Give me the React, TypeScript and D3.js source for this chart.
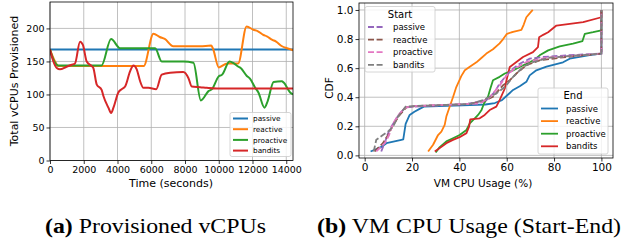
import React, { useEffect, useRef } from 'react';
import * as d3 from 'd3';

type Pt = [number, number];

// (a) provisioned vCPUs over time
const timeTicks = [0, 2000, 4000, 6000, 8000, 10000, 12000, 14000];
const vcpuTicks = [0, 50, 100, 150, 200];
const seriesNames = ['passive', 'reactive', 'proactive', 'bandits'];

const passive: Pt[] = [[0, 168], [14400, 168]];
const reactive: Pt[] = [
  [0, 168], [300, 150], [500, 143], [1000, 143], [5550, 143], [6130, 192], [6500, 187], [6800, 184],
  [7300, 173], [8900, 173], [9550, 174], [9650, 170], [10000, 141], [10500, 147], [11150, 147],
  [11650, 203], [12050, 198], [12300, 196], [12650, 190], [12850, 188], [13150, 183], [13400, 180],
  [13750, 173], [14050, 170], [14400, 167],
];
const proactive: Pt[] = [
  [0, 168], [250, 150], [500, 144], [3050, 144], [3620, 184], [4150, 170], [6230, 170], [6620, 150],
  [7900, 150], [8500, 148], [8940, 91], [9390, 105], [9600, 108], [9985, 127], [10200, 130],
  [10640, 150], [10900, 147], [11170, 142], [11300, 140], [11665, 128], [11850, 124], [12160, 110],
  [12350, 103], [12710, 80], [12900, 90], [13250, 119], [13740, 120], [13850, 118], [14230, 103],
  [14400, 100],
];
const bandits: Pt[] = [
  [0, 168], [200, 150], [400, 140], [590, 138], [980, 142], [1285, 145], [1480, 147], [1780, 180],
  [1950, 175], [2175, 150], [2470, 143], [2570, 140], [2770, 115], [3060, 107], [3160, 98],
  [3460, 80], [3620, 72], [3760, 80], [4050, 103], [4250, 108], [4450, 112], [4745, 135], [4940, 144],
  [5140, 138], [5340, 120], [5535, 110], [5830, 110], [6290, 108], [6620, 130], [7120, 133],
  [7900, 134], [8200, 125], [8400, 112], [8900, 111], [9290, 110], [9885, 109], [14400, 109],
];

// (b) CDF of VM CPU usage, start (dashed) and end (solid)
const usageTicks = [0, 20, 40, 60, 80, 100];
const cdfTicks = [0, 0.2, 0.4, 0.6, 0.8, 1.0];

const startPassive: Pt[] = [
  [7, 0.027], [8.9, 0.107], [9.9, 0.153], [11.3, 0.198], [13.4, 0.255], [15.5, 0.3], [17.3, 0.33],
  [20.4, 0.335], [43, 0.352], [51.4, 0.38], [55, 0.437], [57, 0.494], [59.9, 0.55], [62.7, 0.597],
  [65.5, 0.63], [69.7, 0.665], [75.4, 0.677], [85.2, 0.688], [100, 0.7], [100, 1.0],
];
const startReactive: Pt[] = [
  [4.2, 0.027], [7.7, 0.084], [9.9, 0.14], [12, 0.21], [14.8, 0.278], [17.6, 0.33], [21.8, 0.34],
  [43, 0.352], [50, 0.37], [54.2, 0.403], [58.5, 0.483], [61.3, 0.517], [64.1, 0.563], [68.3, 0.62],
  [73.9, 0.654], [85.2, 0.677], [100, 0.7], [100, 1.0],
];
const startProactive: Pt[] = [
  [4.9, 0.027], [8.5, 0.084], [10.3, 0.14], [12, 0.22], [14.8, 0.29], [17.3, 0.33], [21.8, 0.34],
  [48.6, 0.357], [52.8, 0.4], [57, 0.48], [59.9, 0.55], [63.4, 0.597], [68.3, 0.642], [76.8, 0.672],
  [100, 0.7], [100, 1.0],
];
const startBandits: Pt[] = [
  [3.8, 0.027], [4.9, 0.107], [7.7, 0.14], [9.9, 0.164], [12, 0.198], [14.1, 0.267], [16.2, 0.312],
  [17.3, 0.335], [21.8, 0.34], [44.4, 0.353], [50, 0.38], [55.6, 0.426], [59.2, 0.47], [62.7, 0.54],
  [66.9, 0.608], [71.1, 0.642], [78.2, 0.672], [100, 0.7], [100, 1.0],
];
const endPassive: Pt[] = [
  [2.5, 0.027], [7.3, 0.06], [9.2, 0.084], [15.5, 0.107], [16.3, 0.11], [17.3, 0.216], [19, 0.278],
  [21, 0.3], [23.2, 0.32], [25, 0.335], [51, 0.35], [55, 0.36], [58, 0.38], [60, 0.41], [62.7, 0.45],
  [65.5, 0.476], [68.3, 0.506], [69.7, 0.55], [72.5, 0.585], [76.8, 0.61], [83.8, 0.64], [86.6, 0.665],
  [95, 0.69], [100, 0.7], [100, 1.0],
];
const endReactive: Pt[] = [
  [26.8, 0.027], [28.9, 0.073], [31, 0.14], [32.4, 0.164], [33.8, 0.21], [34.5, 0.267], [35.9, 0.335],
  [37.3, 0.4], [38.7, 0.47], [40.1, 0.52], [40.8, 0.545], [42.3, 0.585], [44.4, 0.61], [47.2, 0.64],
  [49.3, 0.67], [51.4, 0.7], [54.2, 0.73], [57, 0.77], [58.5, 0.8], [60.1, 0.836], [62.7, 0.85],
  [66.2, 0.863], [67.2, 0.9], [68.3, 0.95], [69.7, 0.977], [71, 1.0],
];
const endProactive: Pt[] = [
  [30, 0.02], [31.7, 0.057], [34.5, 0.096], [37.3, 0.118], [40.1, 0.14], [43, 0.175], [44.4, 0.22],
  [46.5, 0.255], [47.9, 0.278], [49.3, 0.31], [50.4, 0.357], [52.1, 0.403], [53.1, 0.46], [54.2, 0.517],
  [57, 0.54], [59.2, 0.563], [62.7, 0.585], [65.5, 0.608], [68.3, 0.63], [71.8, 0.658], [73.9, 0.688],
  [77.5, 0.722], [82.4, 0.75], [88, 0.768], [92, 0.786], [93, 0.836], [96.5, 0.847], [100, 0.86],
  [100, 1.0],
];
const endBandits: Pt[] = [
  [29.6, 0.027], [31.7, 0.05], [34.5, 0.084], [37.3, 0.107], [40.1, 0.125], [43, 0.153], [44.1, 0.198],
  [44.6, 0.248], [48.6, 0.255], [50.7, 0.278], [52.8, 0.312], [55.6, 0.335], [57, 0.38], [59.2, 0.46],
  [59.9, 0.517], [61.3, 0.608], [64.1, 0.642], [66.9, 0.677], [71.1, 0.71], [73.2, 0.745], [73.7, 0.813],
  [75.4, 0.829], [77.5, 0.847], [81, 0.893], [92.3, 0.916], [100, 0.95], [100, 1.0],
];

const solidColors = ['#1f77b4', '#ff7f0e', '#2ca02c', '#d62728'];
const dashColors = ['#9467bd', '#8c564b', '#e377c2', '#7f7f7f'];

const FONT = 'DejaVu Sans';

const App: React.FC = () => {
  const svgRef = useRef<SVGSVGElement>(null);

  useEffect(() => {
    if (!svgRef.current) return;
    const svg = d3.select(svgRef.current);
    svg.selectAll('*').remove();

    const drawAxes = (
      x: d3.ScaleLinear<number, number>,
      y: d3.ScaleLinear<number, number>,
      xTicks: number[],
      yTicks: number[],
      yFmt: (d: number) => string,
      tickSize: number,
    ) => {
      const [x0, x1] = x.range();
      const [y0, y1] = y.range();
      const g = svg.append('g');
      // grid
      g.selectAll('.vg').data(xTicks).enter().append('line')
        .attr('x1', d => x(d)).attr('x2', d => x(d)).attr('y1', y0).attr('y2', y1)
        .attr('stroke', '#b0b0b0').attr('stroke-width', 0.8);
      g.selectAll('.hg').data(yTicks).enter().append('line')
        .attr('x1', x0).attr('x2', x1).attr('y1', d => y(d)).attr('y2', d => y(d))
        .attr('stroke', '#b0b0b0').attr('stroke-width', 0.8);
      return g;
    };

    const frame = (
      x: d3.ScaleLinear<number, number>,
      y: d3.ScaleLinear<number, number>,
      xTicks: number[],
      yTicks: number[],
      xFmt: (d: number) => string,
      yFmt: (d: number) => string,
      tickSize: number,
    ) => {
      const [x0, x1] = x.range();
      const [y0, y1] = y.range();
      const g = svg.append('g');
      g.append('rect').attr('x', x0).attr('y', y1).attr('width', x1 - x0).attr('height', y0 - y1)
        .attr('fill', 'none').attr('stroke', '#000').attr('stroke-width', 0.8);
      const xa = g.append('g').attr('transform', `translate(0,${y0})`)
        .call(d3.axisBottom(x).tickValues(xTicks).tickSize(3.5).tickPadding(2).tickFormat(d => xFmt(+d)));
      const ya = g.append('g').attr('transform', `translate(${x0},0)`)
        .call(d3.axisLeft(y).tickValues(yTicks).tickSize(3.5).tickPadding(2).tickFormat(d => yFmt(+d)));
      [xa, ya].forEach(a => {
        a.select('.domain').remove();
        a.selectAll('line').attr('stroke', '#000').attr('stroke-width', 0.8);
        a.selectAll('text').attr('fill', '#000').style('font-family', FONT).style('font-size', `${tickSize}px`);
      });
    };

    // ---------- (a) ----------
    const xa = d3.scaleLinear().domain([0, 14400]).range([50, 293]);
    const ya = d3.scaleLinear().domain([0, 240]).range([160.5, 2]);
    drawAxes(xa, ya, timeTicks, vcpuTicks, d => `${d}`, 9.5);
    const lineA = d3.line<Pt>().x(d => xa(d[0])).y(d => ya(d[1])).curve(d3.curveMonotoneX);
    const clipA = svg.append('clipPath').attr('id', 'clipA');
    clipA.append('rect').attr('x', 50).attr('y', 2).attr('width', 243).attr('height', 158.5);
    const gA = svg.append('g').attr('clip-path', 'url(#clipA)');
    [passive, reactive, proactive, bandits].forEach((s, i) => {
      gA.append('path').datum(s).attr('d', lineA).attr('fill', 'none')
        .attr('stroke', solidColors[i]).attr('stroke-width', 2);
    });
    frame(xa, ya, timeTicks, vcpuTicks, d => `${d}`, d => `${d}`, 9.5);

    svg.append('text').attr('x', 171).attr('y', 187).attr('text-anchor', 'middle')
      .style('font-family', FONT).style('font-size', '11px').text('Time (seconds)');
    svg.append('text').attr('transform', 'translate(18,81) rotate(-90)').attr('text-anchor', 'middle')
      .style('font-family', FONT).style('font-size', '11px').text('Total vCPUs Provisioned');

    // legend (a)
    const legA = svg.append('g');
    legA.append('rect').attr('x', 230).attr('y', 112.5).attr('width', 61).attr('height', 44).attr('rx', 2)
      .attr('fill', '#fff').attr('fill-opacity', 0.8).attr('stroke', '#ccc').attr('stroke-width', 0.8);
    seriesNames.forEach((n, i) => {
      const yy = 118.5 + i * 10.7;
      legA.append('line').attr('x1', 233).attr('x2', 248).attr('y1', yy).attr('y2', yy)
        .attr('stroke', solidColors[i]).attr('stroke-width', 2);
      legA.append('text').attr('x', 253).attr('y', yy + 2.6)
        .style('font-family', FONT).style('font-size', '7.3px').text(n);
    });

    // ---------- (b) ----------
    const xb = d3.scaleLinear().domain([-2.4, 104.9]).range([359, 613]);
    const yb = d3.scaleLinear().domain([-0.018, 1.048]).range([158, 3]);
    drawAxes(xb, yb, usageTicks, cdfTicks, d => d.toFixed(1), 10.5);
    const lineB = d3.line<Pt>().x(d => xb(d[0])).y(d => yb(d[1]));
    const startSeries = [startPassive, startReactive, startProactive, startBandits];
    const endSeries = [endPassive, endReactive, endProactive, endBandits];
    endSeries.forEach((s, i) => {
      svg.append('path').datum(s).attr('d', lineB).attr('fill', 'none')
        .attr('stroke', solidColors[i]).attr('stroke-width', 1.8).attr('stroke-linejoin', 'round');
    });
    startSeries.forEach((s, i) => {
      svg.append('path').datum(s).attr('d', lineB).attr('fill', 'none')
        .attr('stroke', dashColors[i]).attr('stroke-width', 1.8).attr('stroke-dasharray', '6,2.6');
    });
    frame(xb, yb, usageTicks, cdfTicks, d => `${d}`, d => d.toFixed(1), 10.5);

    svg.append('text').attr('x', 483).attr('y', 187).attr('text-anchor', 'middle')
      .style('font-family', FONT).style('font-size', '10.5px').text('VM CPU Usage (%)');
    svg.append('text').attr('transform', 'translate(333,88) rotate(-90)').attr('text-anchor', 'middle')
      .style('font-family', FONT).style('font-size', '10.5px').text('CDF');

    const legend = (x0: number, y0: number, w: number, h: number, title: string, colors: string[], dashed: boolean) => {
      const g = svg.append('g');
      g.append('rect').attr('x', x0).attr('y', y0).attr('width', w).attr('height', h).attr('rx', 2)
        .attr('fill', '#fff').attr('fill-opacity', 0.8).attr('stroke', '#ccc').attr('stroke-width', 0.8);
      g.append('text').attr('x', x0 + w / 2).attr('y', y0 + 11).attr('text-anchor', 'middle')
        .style('font-family', FONT).style('font-size', '10px').text(title);
      seriesNames.forEach((n, i) => {
        const yy = y0 + 20.5 + i * 12.6;
        g.append('line').attr('x1', x0 + 3).attr('x2', x0 + 20).attr('y1', yy).attr('y2', yy)
          .attr('stroke', colors[i]).attr('stroke-width', 1.8)
          .attr('stroke-dasharray', dashed ? '6,2.6' : null);
        g.append('text').attr('x', x0 + 28).attr('y', yy + 3)
          .style('font-family', FONT).style('font-size', '8.5px').text(n);
      });
    };
    legend(365, 6.5, 70, 65.5, 'Start', dashColors, true);
    legend(538, 88, 70, 66, 'End', solidColors, false);

    // captions
    const cap = (x: number, label: string, rest: string, len: number) => {
      const t = svg.append('text').attr('x', x).attr('y', 232.5)
        .attr('textLength', len).attr('lengthAdjust', 'spacingAndGlyphs')
        .style('font-family', 'Liberation Serif').style('font-size', '22px').attr('fill', '#000');
      t.append('tspan').style('font-weight', 'bold').text(label);
      t.append('tspan').text(rest);
    };
    cap(45, '(a)', ' Provisioned vCPUs', 221);
    cap(317, '(b)', ' VM CPU Usage (Start-End)', 304);
  }, []);

  return (
    <div style={{ position: 'absolute', left: 0, top: 0 }}>
      <svg ref={svgRef} width={622} height={244} style={{ display: 'block', background: '#fff' }} />
    </div>
  );
};

export default App;
